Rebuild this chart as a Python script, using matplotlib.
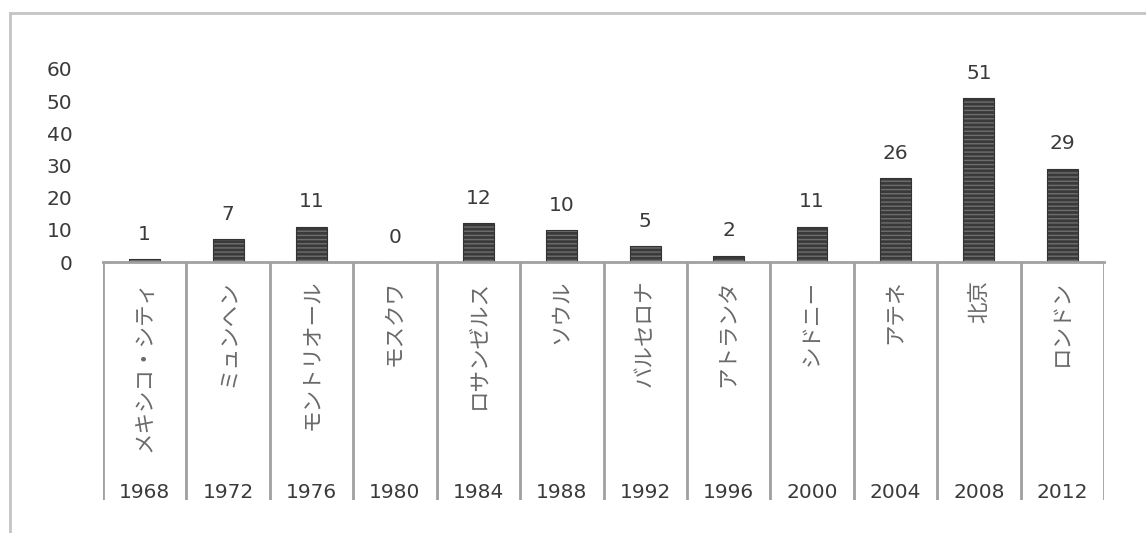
import matplotlib
matplotlib.use("Agg")
import matplotlib.pyplot as plt
from matplotlib.lines import Line2D

years = ["1968", "1972", "1976", "1980", "1984", "1988", "1992", "1996", "2000", "2004", "2008", "2012"]
cities = ["メキシコ・シティ", "ミュンヘン", "モントリオール", "モスクワ", "ロサンゼルス", "ソウル",
          "バルセロナ", "アトランタ", "シドニー", "アテネ", "北京", "ロンドン"]
values = [1, 7, 11, 0, 12, 10, 5, 2, 11, 26, 51, 29]
yticks = [0, 10, 20, 30, 40, 50, 60]

W, H = 1146, 533
fig = plt.figure(figsize=(W / 100, H / 100), dpi=100)

def fx(px):
    return px / W

def fy(py):
    return 1 - py / H

# outer frame (top and left only visible)
fig.add_artist(Line2D([fx(10), 1.0], [fy(13), fy(13)], transform=fig.transFigure, color="#c4c4c4", lw=2))
fig.add_artist(Line2D([fx(10), fx(10)], [fy(13), 0.0], transform=fig.transFigure, color="#c4c4c4", lw=2))

left, right = 103, 1104
ax = fig.add_axes([fx(left), fy(262), fx(right - left), fy(69) - fy(262)])
x = list(range(len(values)))
ax.bar(x, values, width=0.37, color="#3a3a3a", edgecolor="#6e6e6e", hatch="----", linewidth=0)
ax.bar(x, values, width=0.37, fill=False, edgecolor="#333333", linewidth=0.8)
ax.set_xlim(-0.5, len(values) - 0.5)
ax.set_ylim(0, 60)
ax.set_yticks(yticks)
ax.set_yticklabels([str(t) for t in yticks], fontsize=14.5, color="#3a3a3a", family="DejaVu Sans")
ax.tick_params(axis="y", length=0, pad=22)
ax.set_xticks([])
for s in ["top", "right", "left"]:
    ax.spines[s].set_visible(False)
ax.spines["bottom"].set_color("#a0a0a0")
ax.spines["bottom"].set_linewidth(2)
for xi, v in zip(x, values):
    ax.annotate(str(v), (xi, v), xytext=(0, 11), textcoords="offset points",
                ha="center", va="bottom", fontsize=14.5, color="#3a3a3a", family="DejaVu Sans")

# category table below
tab = fig.add_axes([fx(left), fy(500), fx(right - left), fy(262) - fy(500)])
tab.set_xlim(-0.5, len(values) - 0.5)
tab.set_ylim(0, 1)
tab.axis("off")
tab.vlines([i - 0.5 for i in range(len(values) + 1)], 0, 1, color="#a0a0a0", lw=2)
for xi, yr, c in zip(x, years, cities):
    tab.text(xi, 0.03, yr, ha="center", va="center", fontsize=14.5, color="#3a3a3a", family="DejaVu Sans")
    tab.text(xi, 0.925, c, ha="center", va="top", rotation=90, fontsize=15.5, color="#6a6a6a",
             family=["Noto Sans CJK JP", "DejaVu Sans"])

fig.savefig("out.png", dpi=100)
